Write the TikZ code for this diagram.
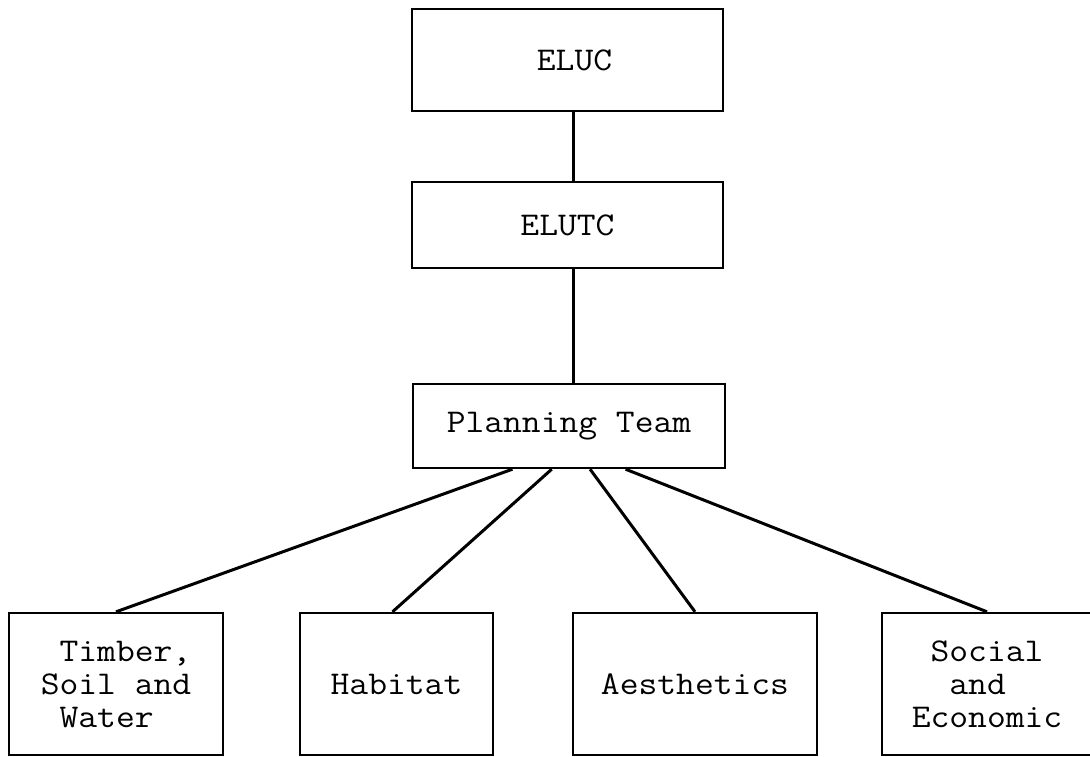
\documentclass[tikz,border=0pt]{standalone}
\usepackage{fontspec}
\newfontfamily\typewriter[FakeStretch=1.1]{Latin Modern Mono}
\usetikzlibrary{calc}

\tikzset{
  box/.style={draw, line width=1.2pt, inner sep=0pt, align=left,
    font=\typewriter\fontsize{16.6}{16.5}\selectfont},
  link/.style={line width=1.5pt}
}

\begin{document}
\begin{tikzpicture}[x=0.5pt, y=-0.5pt]
  \useasboundingbox (0,0) rectangle (1090,756);

  % upper chain of command
  \node[box, minimum width=155.5pt, minimum height=51pt] (eluc) at (567.5,60) {\hspace{7pt}ELUC};
  \node[box, minimum width=155.5pt, minimum height=43pt] (elutc) at (567.5,225) {ELUTC};
  \node[box, minimum width=156pt, minimum height=42pt] (plan) at (569,426) {Planning Team};

  % resource specialists
  \node[box, minimum width=107pt, minimum height=71pt] (timber) at (116,684)
    {\phantom{x}Timber,\\Soil and\\\phantom{x}Water};
  \node[box, minimum width=96.5pt, minimum height=71pt] (habitat) at (396.5,684) {Habitat};
  \node[box, minimum width=122pt, minimum height=71pt] (aesth) at (695,684) {Aesthetics};
  \node[box, minimum width=105pt, minimum height=71pt] (social) at (987,684)
    {\phantom{x}Social\\\phantom{xx}and\\Economic};

  % vertical spine
  \coordinate (spine) at (573,0);
  \draw[link] (eluc.south -| spine) -- (elutc.north -| spine);
  \draw[link] (elutc.south -| spine) -- (plan.north -| spine);

  % fan-out from the planning team
  \draw[link] ($(plan.south west)!0.32!(plan.south east)$) -- (timber.north);
  \draw[link] ($(plan.south west)!0.445!(plan.south east)$) -- ($(habitat.north)+(-4,0)$);
  \draw[link] ($(plan.south west)!0.567!(plan.south east)$) -- (aesth.north);
  \draw[link] ($(plan.south west)!0.68!(plan.south east)$) -- (social.north);
\end{tikzpicture}
\end{document}
